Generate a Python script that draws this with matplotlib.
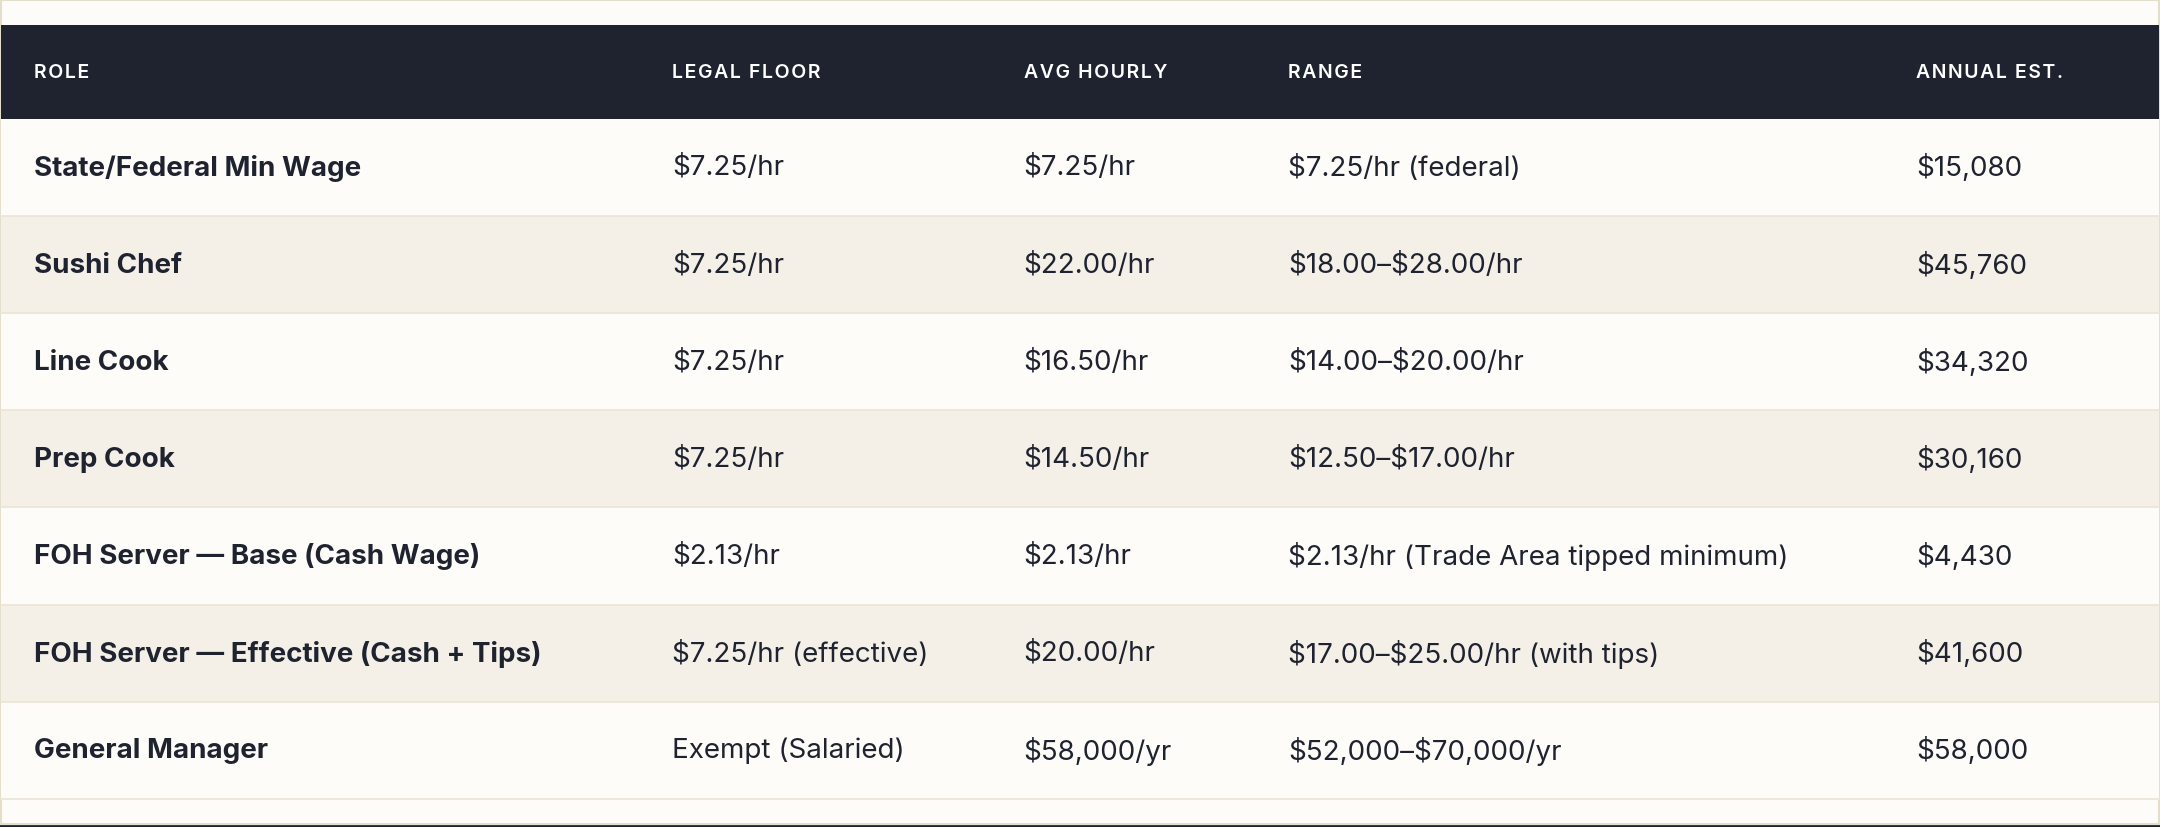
import matplotlib
matplotlib.use("Agg")
import matplotlib.pyplot as plt
from matplotlib.patches import Rectangle

headers = ["ROLE", "LEGAL FLOOR", "AVG HOURLY", "RANGE", "ANNUAL EST."]
roles = ["State/Federal Min Wage", "Sushi Chef", "Line Cook", "Prep Cook",
         "FOH Server — Base (Cash Wage)", "FOH Server — Effective (Cash + Tips)", "General Manager"]
legal_floor = ["$7.25/hr", "$7.25/hr", "$7.25/hr", "$7.25/hr", "$2.13/hr", "$7.25/hr (effective)", "Exempt (Salaried)"]
avg_hourly = ["$7.25/hr", "$22.00/hr", "$16.50/hr", "$14.50/hr", "$2.13/hr", "$20.00/hr", "$58,000/yr"]
ranges = ["$7.25/hr (federal)", "$18.00–$28.00/hr", "$14.00–$20.00/hr", "$12.50–$17.00/hr",
          "$2.13/hr (Trade Area tipped minimum)", "$17.00–$25.00/hr (with tips)", "$52,000–$70,000/yr"]
annual = ["$15,080", "$45,760", "$34,320", "$30,160", "$4,430", "$41,600", "$58,000"]

W, H = 1568, 601
fig = plt.figure(figsize=(21.6, 8.28), dpi=100)
fig.patch.set_facecolor("#fdfcf8")
ax = fig.add_axes([0, 0, 1, 1])
ax.set_xlim(0, W); ax.set_ylim(H, 0); ax.axis("off")

dark = "#1f2330"
colx = [25, 488, 743, 935, 1391]
top, hh, rh = 19, 68, 70.5
fam = ["Inter", "DejaVu Sans"]
ax.add_patch(Rectangle((1, 1), W - 2, H - 3, facecolor="#fdfcf8", edgecolor="#e3dfcc", lw=1.5))
ax.add_patch(Rectangle((1, top), W - 2, hh, facecolor=dark, edgecolor="none"))
ax.plot([0, W], [H - 1, H - 1], color=dark, lw=2)
for x, h in zip(colx, headers):
    ax.text(x, top + hh / 2, "\u200a".join(h), color="white", fontsize=14,
            family=fam, fontweight="semibold", va="center", ha="left", parse_math=False)

cols = [roles, legal_floor, avg_hourly, ranges, annual]
for i in range(len(roles)):
    y0 = top + hh + i * rh
    ax.add_patch(Rectangle((1, y0), W - 2, rh, facecolor="#f4f0e8" if i % 2 else "#fdfcf8", edgecolor="none"))
    ax.plot([1, W - 1], [y0 + rh, y0 + rh], color="#ebe5d6", lw=1.2)
    for j, (x, c) in enumerate(zip(colx, cols)):
        ax.text(x, y0 + rh / 2, c[i], color=dark, fontsize=20, family=fam,
                fontweight="bold" if j == 0 else "normal", va="center", ha="left",
                parse_math=False)

fig.savefig("out.png", dpi=100, facecolor=fig.get_facecolor())
